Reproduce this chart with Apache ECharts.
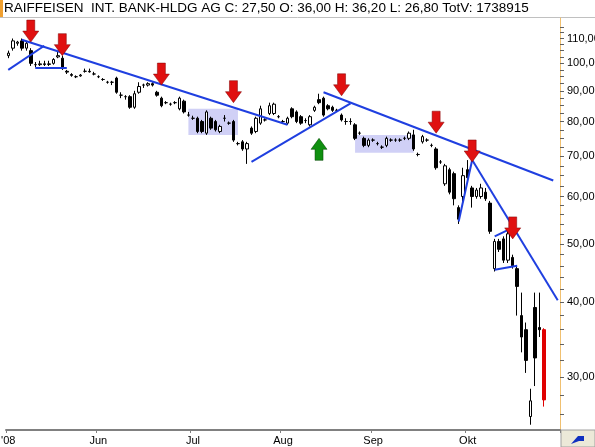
<!DOCTYPE html>
<html><head><meta charset="utf-8">
<script src="https://cdn.jsdelivr.net/npm/echarts@6/dist/echarts.min.js"></script>
<style>html,body{margin:0;padding:0;background:#fff}#c{width:595px;height:447px}</style>
</head><body><div id="c"></div>
<script>
// [open, close, low, high]
const ohlc = [
[103,104,102,105],[106,109,105,110],[108,108.5,107,109],[109,106,105,110],[106,108,105,109],
[105,100,99,106],[99.5,99.5,98.5,100.5],[99.5,99.8,99,101],[99.8,99.6,99,101],[99.6,99.8,99,101],
[100,101.5,99.5,102],[102.5,103,102,104.5],[102,98,97.5,103],[97,96.7,96,97.5],[95.8,95.5,95,96.3],
[95,95,94.5,95.5],[95.3,95.6,95,96],[97,97,96.5,98],[97,96.8,96.5,98],[96,96,95.5,96.8],
[95,95,94.5,95.5],[94,94,93.5,94.5],[93,93,92.5,93.5],[93,93,92,93.5],[94.5,89.5,89,95],
[88.5,88.5,87.5,89.5],[88,88,87,88.5],[88,84.5,84,88.5],[84.5,89,84,90],[89.5,91.5,89,93],
[92,92,91,92.5],[92,92.5,91.5,93],[92.5,92,91.5,93],[89.5,88.5,88,90],[87.5,85,84.5,88],
[86,86,85.5,86.5],[85.5,85.5,85,86],[86,86,85.5,86.5],[84,87.5,83.5,88],[86.5,83,82.5,87],
[82,82,81.5,83],[81,81,80.5,81.8],[81,77,76.5,81.5],[80,77,76.5,80.5],[76.5,83,76,83.5],
[81,78,77.5,81.5],[80,77.5,77,80.5],[77,78.5,76.5,79],[81,81,80,82],[79.5,79.5,79,80],
[80,74.5,74,80.5],[73.5,73.5,73,74],[74,72,71.5,74.5],[72,73.5,68,74],[78,76.5,76,78.5],
[77,81,76.5,81.5],[79.5,84,79,85],[80.5,80.5,80,81],[82.5,85,82,86],[82.5,85.5,82,86],
[81.5,81.5,81,82],[80,80,79.5,80.5],[79.5,81,79,81.5],[84,81.5,81,84.5],[83,80,79.5,83.5],
[81.5,79.5,79,82],[80.3,80.3,79.5,81],[79,81.5,78.5,82],[83.5,84.5,83,85],[87,86,85.5,89],
[87.5,82,81.5,88],[85,84,83.5,85.5],[84.5,83.5,83,85],[83.5,83.5,83,84],[82,80.5,80,82.5],
[80,80,79,81],[80,80,79,81],[79,75,74.5,79.5],[76.5,76.5,76,77],[75,73,72.5,75.5],
[73,74.5,72.5,75],[74.5,74.5,74,75],[73.5,73.5,73,74],[72.5,72.5,72,73],[73,75,72.5,75.5],
[74.5,74.5,74,75],[74.5,74.5,74,75],[74.5,74.5,74,75],[75,75,74.5,75.5],[75,76.5,74.5,77],
[76,72,71.5,77.5],[70.5,70.5,70,71],[74,75.5,73.5,76],[74.5,74.5,74,75],[73,73,72.5,73.5],
[72,67,66.5,72.5],[68.5,68.5,68,69],[63,67.5,62.5,68],[66.5,61,60.5,67],[65.5,59.5,58,66],
[57.5,55,54,58],[60,65,58,67],[66.5,64.5,64,69],[62,60,57.5,62.5],[60,61.5,59.5,62],
[60,62,59.5,63],[61,59.5,59,62],[58.5,52.5,52,59],[45.5,50.5,45,51],[50.5,49,48.5,51],
[51,47,46.5,51.5],[47,52,46.5,52.5],[47.5,46,45.5,48],[45.5,42.5,38,46],[38,35,33,41.5],
[36,32,30.5,37],[25.8,27.4,25,28.7],[39.2,32.3,29,41.5],[36.3,36,35,41.5],[36,27.5,26.8,36.2]
];
const extraSlots = 3;
const monthLabels = {0:"'08",20:'Jun',41:'Jul',61:'Aug',81:'Sep',102:'Okt'};
const yLabels = [30,40,50,60,70,80,90,100,110];
const yTicks = [26,28,30,32,34,36,38,40,42,44,46,48,50,52,54,56,58,60,62.5,65,67.5,70,72.5,75,77.5,80,82.5,85,87.5,90,92.5,95,97.5,100,102.5,105,107.5,110,112.5,115];
const trendLines = [
 [[0,97.5],[8,107]],
 [[3,109.5],[62,79]],
 [[6,98.3],[13,98.3]],
 [[54,68.5],[76,85.8]],
 [[70,89.5],[121,63.8]],
 [[100,54.5],[103,69]],
 [[103,69],[122,40.3]],
 [[108,51.5],[111,52.8]],
 [[108,45.3],[113,46]]
];
const boxes = [[[39.5,84],[50.7,76]],[[77,76],[89.8,71]]];
const redArrows = [[5.3,108.5],[12.4,103],[33.7,92],[50.4,86],[74.4,88.3],[94.5,76.5],[102.6,68.5],[112,51]];
const greenArrows = [[68.7,75]];
const titleText = 'RAIFFEISEN  INT. BANK-HLDG AG C: 27,50 O: 36,00 H: 36,20 L: 26,80 TotV: 1738915';

const cats = [];
for (let i=0;i<ohlc.length+extraSlots;i++) cats.push(String(i));
const data = ohlc.map((d,i)=>{
  const o={value:[d[0],d[1],d[2],d[3]]};
  if(i===ohlc.length-1) o.itemStyle={color:'#e00000',color0:'#e00000',borderColor:'#e00000',borderColor0:'#e00000'};
  return o;
});
const downPath='path://M4,0 L12,0 L12,12 L16,12 L8,24 L0,12 L4,12 Z';
const upPath='path://M8,0 L16,12 L12,12 L12,24 L4,24 L4,12 L0,12 Z';
const chart = echarts.init(document.getElementById('c'));
chart.setOption({
  animation:false,
  backgroundColor:'#fff',
  grid:{left:6,right:35,top:18,bottom:17,containLabel:false,outerBoundsMode:'none'},
  xAxis:{type:'category',data:cats,boundaryGap:true,
    axisLine:{lineStyle:{color:'#808080',width:2}},
    axisTick:{show:true,length:3,interval:(i)=>monthLabels[i]!==undefined,lineStyle:{color:'#808080'}},
    axisLabel:{interval:(i)=>monthLabels[i]!==undefined,formatter:(v,i)=>monthLabels[i]||'',
      color:'#000',fontSize:11,fontFamily:'Liberation Sans',margin:5},
    splitLine:{show:false}},
  yAxis:{type:'log',position:'right',min:24.5,max:119,
    axisLine:{show:true,lineStyle:{color:'#f0c070',width:1}},
    axisTick:{show:true,inside:false,length:4,customValues:yTicks,lineStyle:{color:'#606060'}},
    axisLabel:{customValues:yLabels,formatter:(v)=>v.toFixed(2).replace('.',','),color:'#000',fontSize:11,fontFamily:'Liberation Sans',margin:7},
    splitLine:{show:false},minorTick:{show:false}},
  series:[{
    type:'candlestick',data:data,barWidth:3,
    itemStyle:{color:'#ffffff',color0:'#000000',borderColor:'#000000',borderColor0:'#000000',borderWidth:1},
    markLine:{silent:true,symbol:['none','none'],animation:false,
      lineStyle:{color:'#1f3fe0',width:2,type:'solid'},label:{show:false},
      data:trendLines.map(l=>[{coord:[l[0][0],l[0][1]]},{coord:[l[1][0],l[1][1]]}])},
    markArea:{silent:true,itemStyle:{color:'rgba(150,150,235,0.45)'},
      data:boxes.map(b=>[{coord:b[0]},{coord:b[1]}])},
    markPoint:{silent:true,label:{show:false},
      data:[
        ...redArrows.map(a=>({coord:a,symbol:downPath,symbolSize:[16,22],symbolOffset:[0,-11],itemStyle:{color:'#e01010',borderColor:'#800000',borderWidth:0.5}})),
        ...greenArrows.map(a=>({coord:a,symbol:upPath,symbolSize:[16,22],symbolOffset:[0,11],itemStyle:{color:'#109010',borderColor:'#004000',borderWidth:0.5}}))
      ]}
  }],
  graphic:[
    {type:'rect',shape:{x:0,y:0,width:3,height:17},style:{fill:'#f0a030'}},
    {type:'line',shape:{x1:0,y1:17.5,x2:595,y2:17.5},style:{stroke:'#c0c0c0',lineWidth:1}},
    {type:'text',left:4,top:1,style:{text:titleText,font:'13.5px "Liberation Sans"',fill:'#000'}},
    {type:'rect',shape:{x:561,y:430,width:34,height:17},style:{fill:'#ece9d8',stroke:'#a0a0a0'}},
    {type:'polygon',shape:{points:[[571,444],[578,436],[584,436],[584,441],[579,441]]},style:{fill:'#1030c0'}}
  ]
});
</script></body></html>
